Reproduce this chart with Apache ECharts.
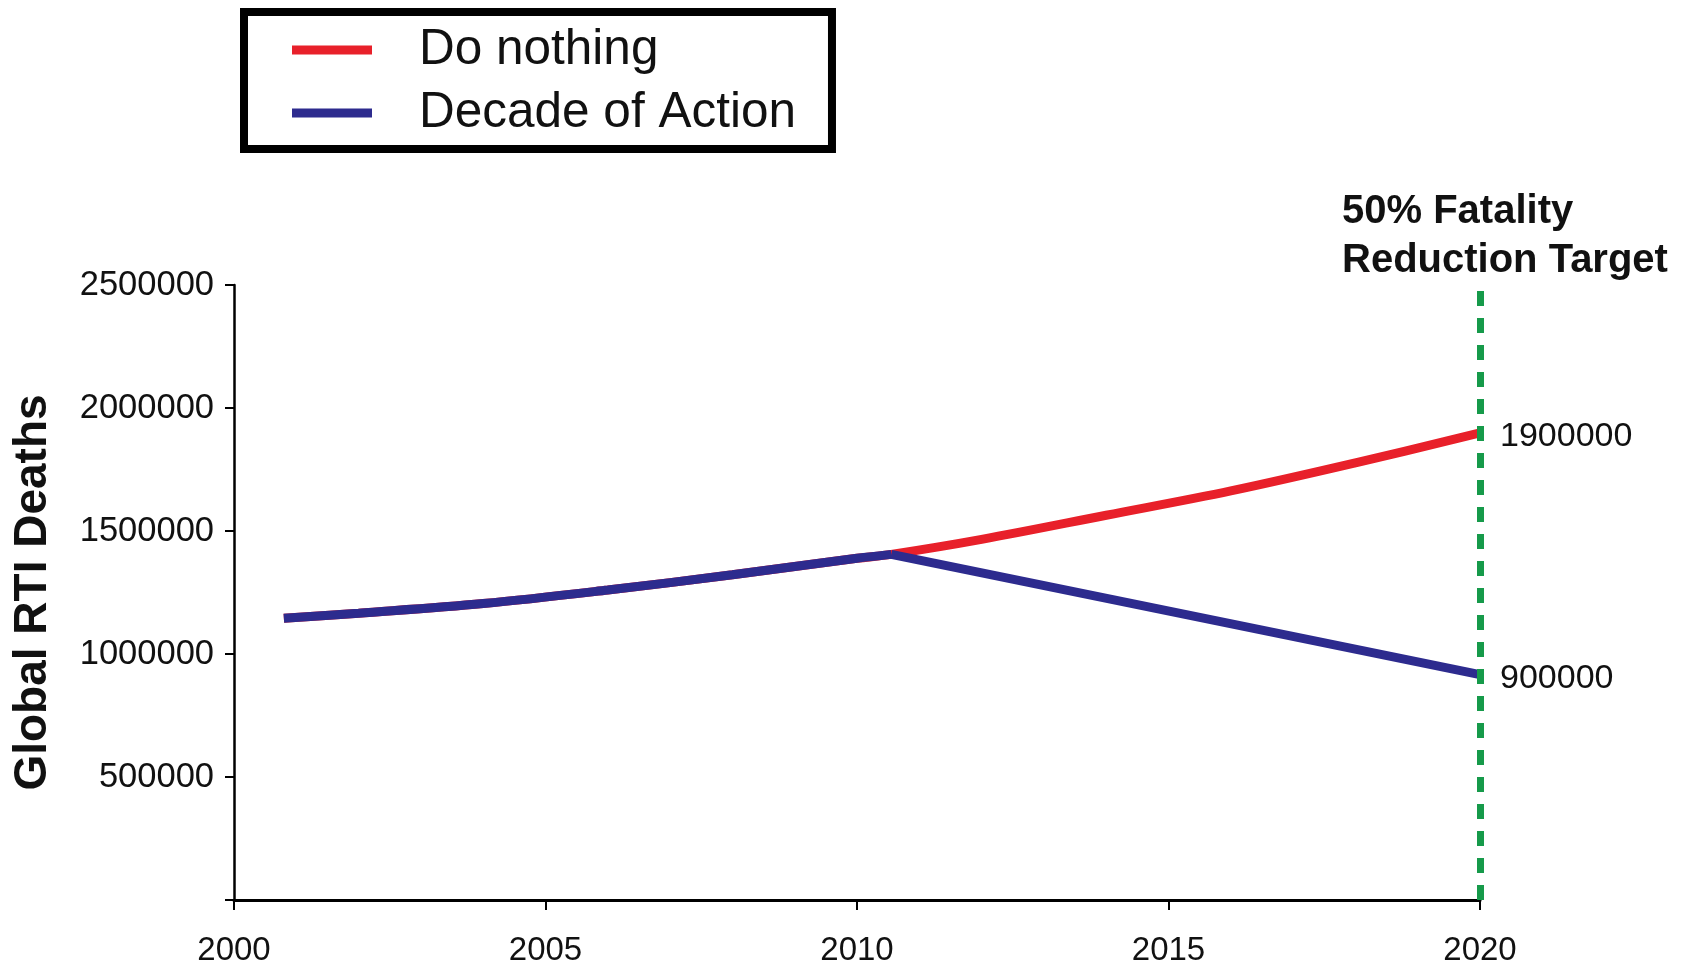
<!DOCTYPE html>
<html>
<head>
<meta charset="utf-8">
<script src="https://cdn.jsdelivr.net/npm/echarts@6/dist/echarts.min.js"></script>
<style>
html,body{margin:0;padding:0;background:#fff;}
#chart{width:1684px;height:970px;}
</style>
</head>
<body>
<div id="chart"></div>
<script>
// Shared trajectory (both scenarios) up to the split point
const sharedYears  = [2000.8, 2002, 2004, 2006, 2008, 2010, 2010.55];
const sharedValues = [1145000, 1166000, 1205000, 1260000, 1322000, 1389000, 1405000];
// "Do nothing" continuation after the split
const doNothingYears  = [2012, 2014, 2016, 2018, 2020];
const doNothingValues = [1466000, 1564000, 1663000, 1777000, 1899000];
// "Decade of Action" continuation after the split
const actionYears  = [2010.55, 2020];
const actionValues = [1405000, 916000];
// End annotations
const endLabels = ['1900000', '900000'];
const targetYear = 2020;
const targetText = '50% Fatality\nReduction Target';
const seriesNames = ['Do nothing', 'Decade of Action'];
const xTicks = { min: 2000, max: 2020, interval: 5 };
const yTicks = { min: 0, max: 2500000, interval: 500000 };

const pairs = (xs, ys) => xs.map((x, i) => [x, ys[i]]);
const redData = pairs(sharedYears.concat(doNothingYears), sharedValues.concat(doNothingValues));
const blueShared = pairs(sharedYears, sharedValues);
const blueAfter = pairs(actionYears, actionValues);

const RED = '#e8202a', BLUE = '#2d2b8e', GREEN = '#169a4a';
const FONT = 'Liberation Sans, Arial, sans-serif';

const chart = echarts.init(document.getElementById('chart'));
chart.setOption({
  animation: false,
  backgroundColor: '#fff',
  textStyle: { fontFamily: FONT },
  title: {
    text: targetText,
    left: 1342, top: 187,
    padding: 0,
    textStyle: { fontFamily: FONT, fontSize: 40, fontWeight: 'bold', color: '#111', lineHeight: 49 }
  },
  legend: {
    orient: 'vertical',
    left: 244, top: 12,
    padding: [13, 36, 11, 48],
    borderColor: '#000', borderWidth: 8,
    backgroundColor: '#fff',
    itemWidth: 80, itemHeight: 9, itemGap: 13,
    icon: 'rect',
    data: [
      { name: seriesNames[0], itemStyle: { color: RED } },
      { name: seriesNames[1], itemStyle: { color: BLUE } }
    ],
    textStyle: { fontFamily: FONT, fontSize: 49.5, color: '#111', lineHeight: 49, padding: [0, 0, 0, 42] }
  },
  grid: { left: 234, right: 204, top: 285, bottom: 70 },
  xAxis: {
    type: 'value', min: xTicks.min, max: xTicks.max, interval: xTicks.interval,
    axisLine: { lineStyle: { color: '#000', width: 3 } },
    axisTick: { show: true, length: 10, lineStyle: { color: '#000', width: 2 } },
    axisLabel: { margin: 34, fontSize: 33, color: '#111', fontFamily: FONT,
      formatter: v => String(v) },
    splitLine: { show: false }
  },
  yAxis: {
    type: 'value', min: yTicks.min, max: yTicks.max, interval: yTicks.interval,
    name: 'Global RTI Deaths', nameLocation: 'middle', nameRotate: 90, nameGap: 178,
    nameTextStyle: { fontFamily: FONT, fontSize: 46, fontWeight: 'bold', color: '#111' },
    axisLine: { show: true, lineStyle: { color: '#000', width: 2.5 } },
    axisTick: { show: true, length: 9, lineStyle: { color: '#000', width: 2 } },
    axisLabel: { margin: 20, fontSize: 34.5, color: '#111', fontFamily: FONT,
      formatter: v => (v === 0 ? '' : String(v)) },
    splitLine: { show: false }
  },
  series: [
    {
      name: seriesNames[0], type: 'line', data: redData, smooth: 0.35,
      symbol: 'none', lineStyle: { color: RED, width: 9 }, itemStyle: { color: RED }, z: 2,
      endLabel: { show: true, formatter: endLabels[0], distance: 20, offset: [0, 4], fontSize: 34, color: '#111', fontFamily: FONT },
      markLine: {
        silent: true, symbol: 'none',
        lineStyle: { color: GREEN, width: 7, type: [15, 12] },
        label: { show: false },
        data: [{ xAxis: targetYear }]
      }
    },
    {
      name: seriesNames[1], type: 'line', data: blueShared, smooth: 0.35,
      symbol: 'none', lineStyle: { color: BLUE, width: 9 }, itemStyle: { color: BLUE }, z: 3
    },
    {
      name: seriesNames[1], type: 'line', data: blueAfter, smooth: false,
      symbol: 'none', lineStyle: { color: BLUE, width: 9 }, itemStyle: { color: BLUE }, z: 3,
      endLabel: { show: true, formatter: endLabels[1], distance: 20, offset: [0, 4], fontSize: 34, color: '#111', fontFamily: FONT }
    }
  ]
});
</script>
</body>
</html>
